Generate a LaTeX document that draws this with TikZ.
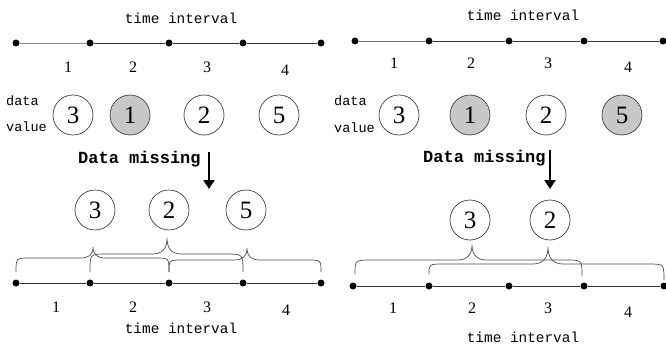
\documentclass[tikz,border=0pt]{standalone}
\usepackage{fontspec}
\setmainfont{Liberation Serif}
\newfontfamily\labfont{Liberation Mono}
\usetikzlibrary{arrows.meta}
\begin{document}
\begin{tikzpicture}[x=1pt,y=-1pt,
  axis/.style={draw=black!80,line width=0.9pt},
  dotnode/.style={circle,fill=black,inner sep=0pt,minimum size=7pt},
  valnode/.style={circle,draw=black!75,line width=0.7pt,minimum size=40pt,inner sep=0pt,font=\fontsize{25}{25}\selectfont},
  missnode/.style={valnode,fill=black!22},
  numlab/.style={inner sep=0pt,font=\fontsize{16}{16}\selectfont},
  timelab/.style={inner sep=0pt,font=\labfont\fontsize{14.4}{14.4}\selectfont},
  datalab/.style={inner sep=0pt,anchor=west,font=\labfont\fontsize{13.5}{13.5}\selectfont},
  misslab/.style={inner sep=0pt,anchor=base west,font=\labfont\bfseries\fontsize{17}{17}\selectfont},
  bigarrow/.style={line width=2.6pt,-{Triangle[length=9pt,width=11pt]}},
  bracepath/.style={draw=black!70,line width=0.7pt}]
\useasboundingbox (0,0) rectangle (666,345);

% ---------- LEFT PANEL ----------
\node[timelab] (lt) at (181,18) {time interval};
\foreach \n/\x in {a/16,b/90,c/169,d/243,e/321}{\node[dotnode] (L\n) at (\x,43) {};}
\draw[axis,draw=black!45] (La) -- (Lb);
\draw[axis] (Lb) -- (Lc) -- (Ld) -- (Le);
\node[numlab] (ln1) at (68,67) {1};
\node[numlab] (ln2) at (133,67) {2};
\node[numlab] (ln3) at (207,67) {3};
\node[numlab] (ln4) at (285,70) {4};
\node[datalab] (ld1) at (6,101) {data};
\node[datalab] (ld2) at (6,127) {value};
\node[valnode] (lv1) at (73,115) {3};
\node[missnode] (lv2) at (130,115) {1};
\node[valnode] (lv3) at (204,115) {2};
\node[valnode] (lv4) at (279,115) {5};
\node[misslab] (lm) at (78,163) {Data missing};
\coordinate (la1) at (209,152);
\coordinate (la2) at (209,189);
\draw[bigarrow] (la1) -- (la2);
\node[valnode] (lw1) at (95,210) {3};
\node[valnode] (lw2) at (169,210) {2};
\node[valnode] (lw3) at (246,210) {5};
\foreach \n/\x in {a/16,b/90,c/169,d/243,e/321}{\node[dotnode] (M\n) at (\x,283) {};}
\draw[axis] (Ma) -- (Mb) -- (Mc) -- (Md) -- (Me);
% braces
\draw[bracepath] (16,272) .. controls (16,258) .. (30,258) -- (80,258)
  .. controls (89,258) and (93,255) .. (93,247)
  .. controls (93,255) and (97,258) .. (106,258) -- (155,258)
  .. controls (169,258) .. (169,272);
\draw[bracepath] (90,272) .. controls (90,254) .. (106,254) -- (152,254)
  .. controls (162,254) and (167,249) .. (167,238)
  .. controls (167,249) and (172,254) .. (182,254) -- (226,254)
  .. controls (243,254) .. (243,272);
\draw[bracepath] (169,272) .. controls (169,260) .. (183,260) -- (234,260)
  .. controls (243,260) and (247,256) .. (247,248)
  .. controls (247,256) and (251,260) .. (260,260) -- (307,260)
  .. controls (321,260) .. (321,272);
\node[numlab] (mn1) at (56,307) {1};
\node[numlab] (mn2) at (133,307) {2};
\node[numlab] (mn3) at (207,307) {3};
\node[numlab] (mn4) at (286,310) {4};
\node[timelab] (mt) at (181,328) {time interval};

% ---------- RIGHT PANEL ----------
\node[timelab] (rt) at (523,15) {time interval};
\foreach \n/\x in {a/355,b/429,c/509,d/584,e/663}{\node[dotnode] (R\n) at (\x,41) {};}
\draw[axis,draw=black!55] (Ra) -- (Rb);
\draw[axis] (Rb) -- (Rc) -- (Rd) -- (Re);
\node[numlab] (rn1) at (394,63) {1};
\node[numlab] (rn2) at (471,63) {2};
\node[numlab] (rn3) at (548,63) {3};
\node[numlab] (rn4) at (628,67) {4};
\node[datalab] (rd1) at (334,101) {data};
\node[datalab] (rd2) at (334,128) {value};
\node[valnode] (rv1) at (399,115) {3};
\node[missnode] (rv2) at (470,115) {1};
\node[valnode] (rv3) at (546,115) {2};
\node[missnode] (rv4) at (622,115) {5};
\node[misslab] (rm) at (423,162) {Data missing};
\coordinate (ra1) at (550,150);
\coordinate (ra2) at (550,189);
\draw[bigarrow] (ra1) -- (ra2);
\node[valnode] (rw1) at (470,220) {3};
\node[valnode] (rw2) at (550,220) {2};
\foreach \n/\x in {a/353,b/429,c/509,d/584,e/664}{\node[dotnode] (S\n) at (\x,286) {};}
\draw[axis] (Sa) -- (Sb) -- (Sc) -- (Sd) -- (Se);
\draw[bracepath] (355,274) .. controls (355,260) .. (372,260) -- (457,260)
  .. controls (467,260) and (472,255) .. (472,245)
  .. controls (472,255) and (477,260) .. (487,260) -- (566,260)
  .. controls (582,260) .. (582,276);
\draw[bracepath] (429,274) .. controls (429,264) .. (445,264) -- (533,264)
  .. controls (543,264) and (548,258) .. (548,247)
  .. controls (548,258) and (553,264) .. (563,264) -- (648,264)
  .. controls (664,264) .. (664,280);
\node[numlab] (sn1) at (393,308) {1};
\node[numlab] (sn2) at (472,308) {2};
\node[numlab] (sn3) at (548,308) {3};
\node[numlab] (sn4) at (628,312) {4};
\node[timelab] (st) at (523,337) {time interval};
\end{tikzpicture}
\end{document}
